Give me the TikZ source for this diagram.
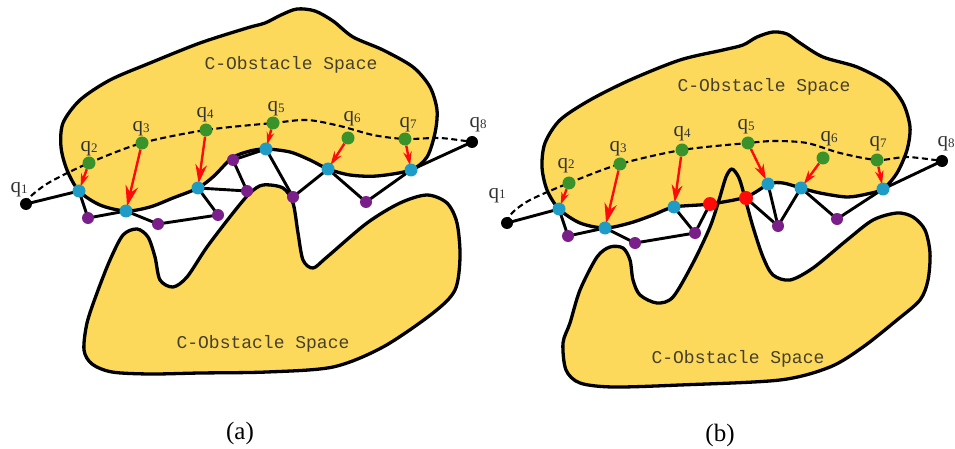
\documentclass[tikz,border=0pt]{standalone}
\usepackage{fontspec}
\setmainfont{Liberation Serif}
\newfontfamily\obsfont{Liberation Mono}
\usepackage{tikz}
\usetikzlibrary{arrows.meta}
\definecolor{cYellow}{HTML}{FCD95A}
\definecolor{cText}{HTML}{463F2C}
\definecolor{cGreen}{HTML}{3A922A}
\definecolor{cBlue}{HTML}{1E9CC6}
\definecolor{cPurple}{HTML}{7A1E8A}
\definecolor{cRed}{HTML}{FF0A0A}
\pgfdeclarelayer{back}
\pgfsetlayers{back,main}
\newcommand{\qn}[1]{q\raisebox{-1pt}{\fontsize{13}{13}\selectfont #1}}
% obstacle outlines (pixel coordinates, y downwards)
\newcommand{\obsAup}{plot[smooth cycle] coordinates {(79,191) (100,205) (126,211) (150,207) (173,198) (198,188) (214,176) (232,158) (250,151) (266,149) (290,152) (310,160) (328,169) (350,175) (377,176) (411,170) (427,157) (435,133) (437,110) (430,87) (413,67) (383,50) (353,37) (333,21) (315,11) (297,9) (281,15) (265,23) (247,28) (200,43) (150,63) (110,80) (80,100) (63,123) (61,147) (67,170)}}
\newcommand{\obsAlow}{plot[smooth cycle] coordinates {(87,323) (84,350) (92,364) (112,372) (150,374) (200,373) (267,372) (333,367) (383,347) (433,313) (455,290) (460,257) (457,223) (447,203) (427,195) (400,203) (367,223) (327,257) (313,268) (303,260) (298,233) (293,203) (283,188) (263,185) (250,193) (233,213) (207,247) (187,277) (173,287) (160,280) (155,257) (148,237) (137,229) (123,235) (110,260) (97,293)}}
\newcommand{\obsBup}{plot[smooth cycle] coordinates {(559,209) (580,223) (605,228) (630,223) (653,215) (674,207) (710,204) (746,197) (769,184) (783,183) (801,188) (820,193) (847,197) (867,194) (883,189) (897,173) (907,150) (910,127) (903,103) (887,83) (857,67) (823,57) (800,43) (787,34) (773,32) (757,37) (743,45) (723,50) (680,60) (630,80) (590,100) (560,120) (545,143) (542,167) (547,190)}}
\newcommand{\obsBlow}{plot[smooth cycle] coordinates {(563,343) (566,370) (580,383) (613,387) (680,385) (780,380) (830,367) (863,347) (897,320) (920,300) (928,280) (930,253) (925,230) (913,217) (897,213) (873,220) (847,240) (813,268) (790,280) (773,275) (763,257) (753,227) (745,198) (739,178) (732,169) (726,177) (719,200) (710,227) (693,263) (673,297) (657,303) (640,295) (633,280) (630,260) (623,248) (610,247) (597,257) (580,290) (570,323)}}
\tikzset{
  obs/.style={draw=black,line width=3.3pt,line join=round},
  dot/.style={circle,fill=#1,inner sep=0pt,minimum size=12pt},
  dot/.default=black,
  bigdot/.style={dot=#1,minimum size=13pt},
  link/.style={line width=2.9pt,draw=black},
  route/.style={line width=2.1pt,draw=black,dash pattern=on 6pt off 3.5pt},
  push/.style={-{Stealth[length=13pt,width=8pt,scale=#1]},line width=2.4pt,draw=cRed,shorten >=-2pt},
  push/.default=1,
  qlab/.style={font=\fontsize{21}{22}\selectfont,text=black!80,anchor=base,inner sep=0pt},
  obstxt/.style={font=\obsfont\fontsize{18}{20}\selectfont,text=cText,inner sep=0pt},
  sub/.style={font=\fontsize{25}{28}\selectfont,inner sep=0pt},
}
\begin{document}
\begin{tikzpicture}[x=1pt,y=-1pt]
  \useasboundingbox (0,0) rectangle (955,449);
  \node[obstxt] (ta1) at (291,65) {C-Obstacle Space};
  \node[obstxt] (ta2) at (263,344) {C-Obstacle Space};
  \node[obstxt] (tb1) at (764,87) {C-Obstacle Space};
  \node[obstxt] (tb2) at (738,359) {C-Obstacle Space};

  % (a) nodes
  \node[dot] (aq1) at (26,204) {};
  \node[dot] (aq8) at (472,142) {};
  \node[qlab] (aL1) at (19,193) {\qn{1}};
  \node[qlab] (aL8) at (478,128) {\qn{8}};
  \foreach \i/\x/\y/\lx/\ly in {2/89/163/89/152,3/142/143/141/132,4/206/130/205/118,5/273/123/276/112,6/348/138/352/122,7/405/139/408/128}
    {\node[bigdot=cGreen] (ag\i) at (\x,\y) {};
     \node[qlab] (aL\i) at (\lx,\ly) {\qn{\i}};}
  \foreach \i/\x/\y in {2/79/191,3/126/211,4/198/188,5/266/149,6/328/169,7/411/170}
    \node[bigdot=cBlue] (ab\i) at (\x,\y) {};
  \foreach \i/\x/\y in {1/88/218,2/158/224,3/218/215,4/247/191,5/233/160,6/293/197,7/366/202}
    \node[dot=cPurple] (ap\i) at (\x,\y) {};

  % (b) nodes
  \node[dot] (bq1) at (507,223) {};
  \node[dot] (bq8) at (942,161) {};
  \node[qlab] (bL1) at (497,198) {\qn{1}};
  \node[qlab] (bL8) at (946,147) {\qn{8}};
  \foreach \i/\x/\y/\lx/\ly in {2/569/183/566/168,3/620/164/618/152,4/682/150/682/137,5/748/143/746/130,6/823/158/829/142,7/877/160/878/147}
    {\node[bigdot=cGreen] (bg\i) at (\x,\y) {};
     \node[qlab] (bL\i) at (\lx,\ly) {\qn{\i}};}
  \foreach \i/\x/\y in {2/559/209,3/605/228,4/674/207,5/768/184,6/801/188,7/883/189}
    \node[bigdot=cBlue] (bb\i) at (\x,\y) {};
  \foreach \i/\x/\y in {1/568/236,2/635/243,3/695/233,4/778/226,5/837/219}
    \node[dot=cPurple] (bp\i) at (\x,\y) {};
  \node[dot=cRed,minimum size=14pt] (br1) at (710,204) {};
  \node[dot=cRed,minimum size=14pt] (br2) at (746,198) {};

  \node[sub] (capa) at (240,433) {(a)};
  \node[sub] (capb) at (720,435) {(b)};

  \begin{pgfonlayer}{back}
    % C-obstacles
    \fill[cYellow] \obsAup;
    \fill[cYellow] \obsAlow;
    \fill[cYellow] \obsBup;
    \fill[cYellow] \obsBlow;
    \draw[obs] \obsAup;
    \draw[obs] \obsAlow;
    \draw[obs] \obsBup;
    \draw[obs] \obsBlow;
    % paths
    \draw[route] plot[smooth] coordinates {(aq1.center) (31,196) (50,182) (ag2.center) (ag3.center) (ag4.center) (ag5.center) (307,120) (340,126) (373,135) (ag7.center) (440,138) (aq8.center)};
    \draw[route] plot[smooth] coordinates {(bq1.center) (512,213) (530,200) (bg2.center) (bg3.center) (bg4.center) (bg5.center) (775,141) (807,143) (840,153) (bg7.center) (907,157) (bq8.center)};
    \foreach \u/\v in {aq1/ab2,ab2/ap1,ap1/ab3,ab3/ap2,ap2/ap3,ap3/ab4,ab4/ap4,ap4/ap5,ap5/ab5,ab5/ap6,ap6/ab6,ab6/ap7,ap7/ab7,ab7/aq8,
                       bq1/bb2,bb2/bp1,bp1/bb3,bb3/bp2,bp2/bp3,bp3/bb4,bp3/br1,br2/bp4,bp4/bb5,bp4/bb6,bb6/bp5,bp5/bb7,bb7/bq8}
      \draw[link] (\u.center) -- (\v.center);
    \foreach \i/\s in {2/1,3/1.6,4/1.45,5/0.95,6/1.05,7/1.05}
      \draw[push=\s] (ag\i) -- (ab\i);
    \foreach \i/\s in {2/0.95,3/1.55,4/1.35,5/1.2,6/1.05,7/1.05}
      \draw[push=\s] (bg\i) -- (bb\i);
  \end{pgfonlayer}
\end{tikzpicture}
\end{document}
